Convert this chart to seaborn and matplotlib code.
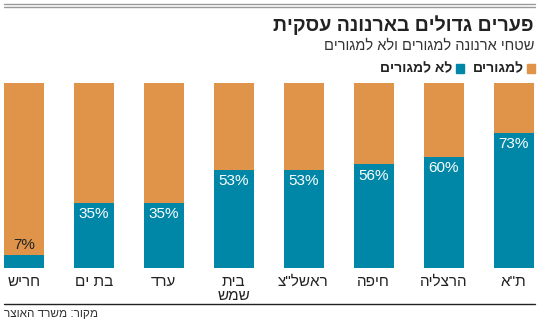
import matplotlib
matplotlib.use("Agg")
import matplotlib.pyplot as plt
import seaborn as sns
import pandas as pd
from matplotlib.lines import Line2D
from matplotlib.patches import Rectangle

# ---- data ----
cities = ["חריש", "בת ים", "ערד", "בית\nשמש", "ראשל\"צ", "חיפה", "הרצליה", "ת\"א"]
non_residential = [7, 35, 35, 53, 53, 56, 60, 73]   # לא למגורים (%)
total = [100, 100, 100, 100, 100, 100, 100, 100]
title = "פערים גדולים בארנונה עסקית"
subtitle = "שטחי ארנונה למגורים ולא למגורים"
legend_res = "למגורים"
legend_non = "לא למגורים"
source = "מקור: משרד האוצר"

ORANGE = "#E0944A"
TEAL = "#0087A7"

def rtl(s):
    return "\n".join(line[::-1] for line in s.split("\n"))

sns.set_theme(style="white")
FONT = ["Liberation Sans", "DejaVu Sans"]
plt.rcParams["font.family"] = FONT

df = pd.DataFrame({"city": [rtl(c) for c in cities], "non": non_residential, "total": total})

W, H = 550, 321
fig = plt.figure(figsize=(W / 100, H / 100), dpi=100)
left_px, right_px, top_px, bot_px = 4, 533.5, 83, 268
ax = fig.add_axes([left_px / W, 1 - bot_px / H, (right_px - left_px) / W, (bot_px - top_px) / H])

bw = 0.572
sns.barplot(data=df, x="city", y="total", color=ORANGE, width=bw, ax=ax, saturation=1, linewidth=0)
sns.barplot(data=df, x="city", y="non", color=TEAL, width=bw, ax=ax, saturation=1, linewidth=0)
ax.set_xlim(-bw / 2, len(cities) - 1 + bw / 2)
ax.set_ylim(0, 100)
for s in ax.spines.values():
    s.set_visible(False)
ax.set_yticks([])
ax.set_xlabel("")
ax.set_ylabel("")
ax.tick_params(axis="x", length=0, pad=5, labelsize=11, labelcolor="#222222")
for lbl in ax.get_xticklabels():
    lbl.set_linespacing(1.05)

for i, v in enumerate(non_residential):
    if v >= 20:
        ax.annotate(f"{v}%", (i, v), xytext=(0, -3), textcoords="offset points",
                    ha="center", va="top", color="white", fontsize=11)
    else:
        ax.annotate(f"{v}%", (i, v), xytext=(0, 2), textcoords="offset points",
                    ha="center", va="bottom", color="#222222", fontsize=11)

# decorations
def fx(px):
    return px / W

def fy(py):
    return 1 - py / H

fig.add_artist(Line2D([fx(4), fx(535)], [fy(4), fy(4)], color="#999999", lw=1))
fig.add_artist(Line2D([fx(4), fx(535)], [fy(6.5), fy(6.5)], color="#999999", lw=1))
fig.add_artist(Line2D([fx(4), fx(535)], [fy(304), fy(304)], color="#222222", lw=1))

fig.text(fx(534), fy(25), rtl(title), ha="right", va="center", fontsize=14, fontweight="bold", color="#222222")
fig.text(fx(534), fy(46), rtl(subtitle), ha="right", va="center", fontsize=10.5, color="#333333")

# legend
fig.add_artist(Rectangle((fx(527), fy(73)), 8 / W, 9 / H, color=ORANGE, transform=fig.transFigure))
fig.text(fx(524), fy(68.5), rtl(legend_res), ha="right", va="center", fontsize=10, fontweight="bold", color="#222222")
fig.add_artist(Rectangle((fx(456), fy(73)), 8 / W, 9 / H, color=TEAL, transform=fig.transFigure))
fig.text(fx(452), fy(68.5), rtl(legend_non), ha="right", va="center", fontsize=10, fontweight="bold", color="#222222")

fig.text(fx(4), fy(314), rtl(source), ha="left", va="center", fontsize=8.5, color="#333333")

fig.savefig("out.png", dpi=100)
